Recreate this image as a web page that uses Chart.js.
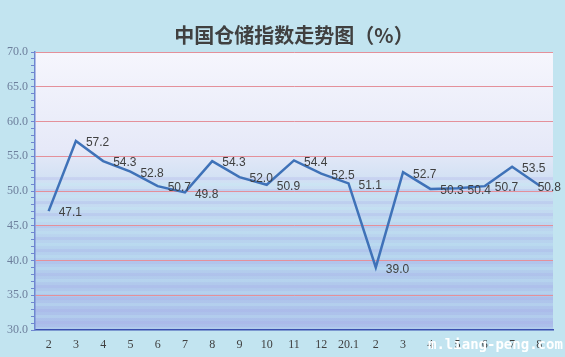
<!DOCTYPE html>
<html>
<head>
<meta charset="utf-8">
<script src="https://cdn.jsdelivr.net/npm/chart.js@4.4.1/dist/chart.umd.min.js"></script>
<style>
  body { margin: 0; background: #c2e4f0; }
  #wrap { width: 565px; height: 357px; }
</style>
</head>
<body>
<div id="wrap"><canvas id="storageChart"></canvas></div>
<script>
// 月份标签（2019.2 - 2020.8）
const months = ['2','3','4','5','6','7','8','9','10','11','12','20.1','2','3','4','5','6','7','8'];
const storageIndex = [47.1, 57.2, 54.3, 52.8, 50.7, 49.8, 54.3, 52.0, 50.9, 54.4, 52.5, 51.1, 39.0, 52.7, 50.3, 50.4, 50.7, 53.5, 50.8];
const yMin = 30, yMax = 70, yMajor = 5;

// plot area background gradient
const plotBg = {
  id: 'plotBg',
  beforeDraw(chart) {
    const ctx = chart.ctx, a = chart.chartArea;
    const g = ctx.createLinearGradient(0, a.top, 0, a.bottom);
    g.addColorStop(0, '#f6f6fd');
    g.addColorStop(0.35, '#e6e9f8');
    g.addColorStop(0.5, '#cadef2');
    g.addColorStop(0.7, '#b6d2ee');
    g.addColorStop(1, '#abbeea');
    ctx.save();
    ctx.fillStyle = g;
    ctx.fillRect(a.left, a.top, a.right - a.left, a.bottom - a.top);
    // faint stripes in the lower half
    ctx.globalAlpha = 0.25;
    for (let y = a.top + (a.bottom - a.top) * 0.45; y < a.bottom; y += 6) {
      ctx.fillStyle = (Math.round(y / 6) % 2) ? '#c4f0f4' : '#a8a8e8';
      ctx.fillRect(a.left, y, a.right - a.left, 3);
    }
    ctx.restore();
  }
};

// value labels beside each point + watermark
const valueLabels = {
  id: 'valueLabels',
  afterDatasetsDraw(chart) {
    const ctx = chart.ctx;
    const meta = chart.getDatasetMeta(0);
    ctx.save();
    ctx.font = '12px "Liberation Sans", Arial, sans-serif';
    ctx.fillStyle = '#404040';
    ctx.textBaseline = 'middle';
    ctx.textAlign = 'left';
    meta.data.forEach((pt, i) => {
      const txt = storageIndex[i].toFixed(1);
      const w = ctx.measureText(txt).width;
      const x = Math.min(pt.x + 10, chart.width - w - 4);
      ctx.fillText(txt, x, pt.y + 2);
    });
    ctx.font = 'bold 14px "DejaVu Sans Mono", monospace';
    ctx.fillStyle = '#ffffff';
    ctx.fillText('m.liang-peng.com', 428, 345);
    ctx.restore();
  }
};

new Chart(document.getElementById('storageChart'), {
  type: 'line',
  data: {
    labels: months,
    datasets: [{
      data: storageIndex,
      borderColor: '#3f72b8',
      borderWidth: 2.5,
      pointRadius: 0,
      tension: 0,
      fill: false
    }]
  },
  options: {
    responsive: true,
    maintainAspectRatio: false,
    animation: false,
    layout: { padding: { left: 0, right: 12, top: 0, bottom: 0 } },
    plugins: {
      legend: { display: false },
      tooltip: { enabled: false },
      title: {
        display: true,
        fullSize: false,
        text: '中国仓储指数走势图（%）',
        color: '#404040',
        font: { family: '"Noto Sans CJK SC", sans-serif', size: 20, weight: 'bold' },
        padding: { top: 23, bottom: 5 }
      }
    },
    scales: {
      x: {
        offset: true,
        grid: { display: false, drawTicks: false },
        border: { color: '#3a4fb0', width: 1.5 },
        ticks: {
          color: '#404040',
          padding: 8,
          maxRotation: 0,
          autoSkip: false,
          font: { family: '"Liberation Serif", serif', size: 12 }
        },
        afterFit(s) { s.height = 27; }
      },
      y: {
        min: yMin,
        max: yMax,
        grid: {
          color: c => (c.tick.value % yMajor === 0 && c.tick.value !== yMin) ? '#e4909a' : 'rgba(0,0,0,0)',
          tickColor: '#6f86d0',
          tickLength: 4,
          lineWidth: 1
        },
        border: { color: '#6f86d0', width: 1.5 },
        ticks: {
          stepSize: 1,
          autoSkip: false,
          color: '#6d7f9c',
          padding: 3,
          font: { family: '"Liberation Serif", serif', size: 12 },
          callback: v => (v % yMajor === 0 ? v.toFixed(1) : '')
        },
        afterFit(s) { s.width = 35; }
      }
    }
  },
  plugins: [plotBg, valueLabels]
});
</script>
</body>
</html>
